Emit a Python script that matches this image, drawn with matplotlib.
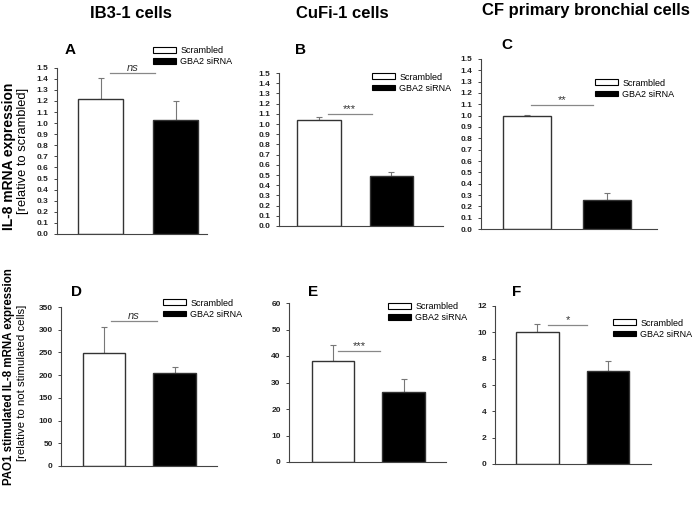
import numpy as np
import matplotlib
matplotlib.use("Agg")
import matplotlib.pyplot as plt
from matplotlib.patches import Patch

plt.rcParams['font.family'] = ['Liberation Sans', 'DejaVu Sans']

groups = ["Scrambled", "GBA2 siRNA"]
letters = ["A", "B", "C", "D", "E", "F"]
titles = ["IB3-1 cells", "CuFi-1 cells", "CF primary bronchial cells"]

means_a = [1.22, 1.03]
err_a = [0.19, 0.17]
means_b = [1.04, 0.49]
err_b = [0.03, 0.04]
means_c = [1.00, 0.26]
err_c = [0.004, 0.06]
means_d = [248, 204]
err_d = [59, 15]
means_e = [38.0, 26.5]
err_e = [6.0, 5.0]
means_f = [10.0, 7.1]
err_f = [0.6, 0.7]

sig_labels = ["ns", "***", "**", "ns", "***", "*"]
sig_heights = [1.45, 1.10, 1.09, 319, 42, 10.56]

yticks_top = np.arange(0, 1.51, 0.1)
yticks_d = np.arange(0, 351, 50)
yticks_e = np.arange(0, 61, 10)
yticks_f = np.arange(0, 13, 2)

W, H = 699, 507
fig = plt.figure(figsize=(W / 100, H / 100), dpi=100)

# axes boxes in pixels: left, top, right, bottom
boxes = [(57, 67.7, 207, 234), (279, 73, 443, 226), (481, 59, 657, 229),
         (61, 307, 217, 466), (289, 303, 446, 462), (495, 306, 651, 464)]
xlims = [(-0.58, 1.42), (-0.55, 1.71), (-0.575, 1.625),
         (-0.61, 1.60), (-0.62, 1.60), (-0.60, 1.61)]
sig_x = [(0.13, 0.73), (0.12, 0.73), (0.05, 0.83),
         (0.10, 0.75), (0.07, 0.67), (0.15, 0.71)]
leg_pos = [(153, 46), (372, 72.5), (595, 78.5), (163, 298.5), (388, 302), (613, 318.5)]
letter_pos = [(70, 50), (300, 50), (507, 45), (77, 292), (313, 292), (517, 292)]
title_pos = [(131, 13), (342, 13), (586, 10)]

means = [means_a, means_b, means_c, means_d, means_e, means_f]
errs = [err_a, err_b, err_c, err_d, err_e, err_f]
yticks = [yticks_top, yticks_top, yticks_top, yticks_d, yticks_e, yticks_f]

for i in range(6):
    l, t, r, b = boxes[i]
    ax = fig.add_axes([l / W, 1 - b / H, (r - l) / W, (b - t) / H])
    x = np.arange(len(groups))
    ax.errorbar(x, means[i], yerr=[[0, 0], errs[i]], fmt="none",
                ecolor="#777777", elinewidth=0.8, capsize=2.5, capthick=0.8, zorder=1)
    ax.bar(x, means[i], width=0.6, color=["white", "black"], edgecolor="#333333",
           linewidth=1.0, zorder=2)
    ax.set_xlim(*xlims[i])
    ax.set_ylim(yticks[i][0], yticks[i][-1])
    ax.set_yticks(yticks[i])
    if i < 3:
        ax.set_yticklabels(["%.1f" % v for v in yticks[i]])
    else:
        ax.set_yticklabels(["%d" % v for v in yticks[i]])
    ax.set_xticks([])
    for s in ["top", "right"]:
        ax.spines[s].set_visible(False)
    for s in ["left", "bottom"]:
        ax.spines[s].set_color("#444444")
        ax.spines[s].set_linewidth(0.8)
    ax.tick_params(axis="y", length=2.5, width=0.7, color="#444444", pad=3.5,
                   labelsize=6)
    for lab in ax.get_yticklabels():
        lab.set_fontweight("bold")
        lab.set_color("#222222")

    x0, x1 = sig_x[i]
    ax.plot([x0, x1], [sig_heights[i]] * 2, color="#888888", lw=0.9, clip_on=False)
    ax.text((x0 + x1) / 2, sig_heights[i], sig_labels[i], ha="center", va="bottom",
            fontsize=8, style="italic" if sig_labels[i] == "ns" else "normal",
            color="#333333")

    handles = [Patch(facecolor="white", edgecolor="black", linewidth=0.8),
               Patch(facecolor="black", edgecolor="black", linewidth=0.8)]
    lx, ly = leg_pos[i]
    ax.legend(handles, groups, loc="upper left", bbox_to_anchor=(lx / W, 1 - ly / H),
              bbox_transform=fig.transFigure, frameon=False, fontsize=6.5,
              handlelength=2.6, handleheight=0.6, handletextpad=0.4,
              labelspacing=0.25, borderpad=0, borderaxespad=0)

    px, py = letter_pos[i]
    fig.text(px / W, 1 - py / H, letters[i], fontsize=11, fontweight="bold",
             ha="center", va="center")

for k in range(3):
    tx, ty = title_pos[k]
    fig.text(tx / W, 1 - ty / H, titles[k], fontsize=12, fontweight="bold",
             ha="center", va="center")

fig.text(9 / W, 1 - 156 / H, "IL-8 mRNA expression", rotation=90, fontsize=10,
         fontweight="bold", ha="center", va="center")
fig.text(23 / W, 1 - 151 / H, "[relative to scrambled]", rotation=90, fontsize=9.3,
         ha="center", va="center")
fig.text(9 / W, 1 - 377 / H, "PAO1 stimulated IL-8 mRNA expression", rotation=90,
         fontsize=8.3, fontweight="bold", ha="center", va="center")
fig.text(22 / W, 1 - 383 / H, "[relative to not stimulated cells]", rotation=90,
         fontsize=8.2, ha="center", va="center")

fig.savefig("out.png", dpi=100)
